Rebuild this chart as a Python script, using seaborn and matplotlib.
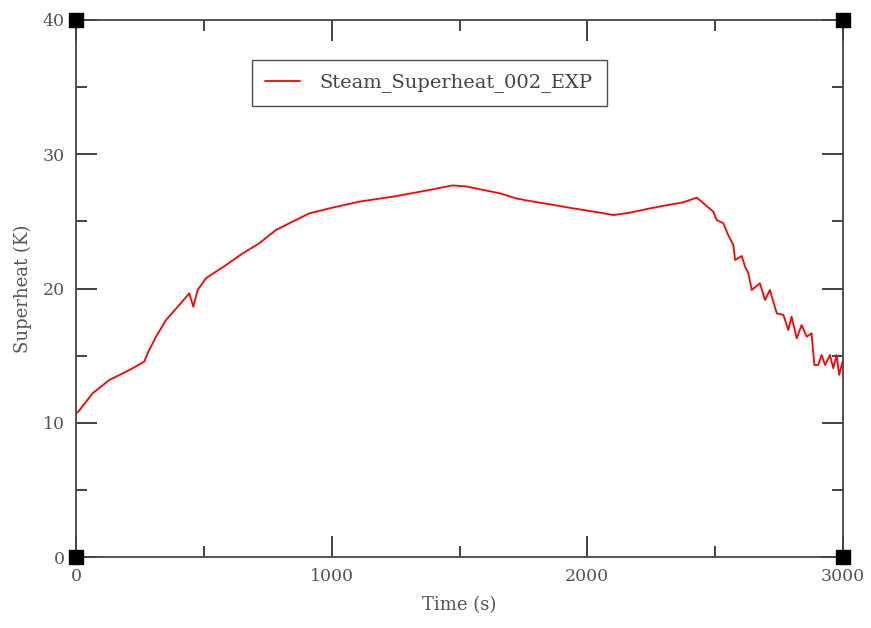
import matplotlib
matplotlib.use("Agg")
import matplotlib.pyplot as plt
import seaborn as sns
import pandas as pd

time_s = [6, 65, 130, 209, 267, 280, 313, 352, 404, 443, 459, 476, 508, 587, 652,
          717, 782, 847, 913, 991, 1108, 1239, 1369, 1473, 1528, 1593, 1658, 1724,
          1789, 1854, 1919, 1984, 2049, 2102, 2167, 2245, 2310, 2375, 2428, 2493,
          2506, 2532, 2551, 2571, 2578, 2604, 2617, 2630, 2643, 2675, 2695, 2714,
          2741, 2767, 2786, 2799, 2819, 2838, 2858, 2877, 2888, 2903, 2916, 2930,
          2949, 2962, 2975, 2985, 3000]
superheat = [10.75, 12.19, 13.18, 13.93, 14.55, 15.17, 16.41, 17.65, 18.77, 19.64,
             18.65, 19.89, 20.76, 21.75, 22.62, 23.37, 24.36, 24.98, 25.6, 25.97,
             26.47, 26.84, 27.29, 27.68, 27.6, 27.34, 27.09, 26.7, 26.47, 26.27,
             26.05, 25.85, 25.65, 25.47, 25.65, 25.97, 26.2, 26.42, 26.77, 25.72,
             25.1, 24.86, 23.98, 23.24, 22.12, 22.42, 21.62, 21.13, 19.89, 20.39,
             19.14, 19.89, 18.15, 18.03, 16.91, 17.9, 16.29, 17.28, 16.41, 16.66,
             14.3, 14.3, 15.05, 14.3, 15.05, 14.06, 15.05, 13.56, 14.67]
series_name = "Steam_Superheat_002_EXP"
x_limits = [0, 3000]
y_limits = [0, 40]
x_ticks = [0, 1000, 2000, 3000]
y_ticks = [0, 10, 20, 30, 40]

sns.set_theme(style="white")
plt.rcParams["font.family"] = ["DejaVu Serif", "DejaVu Sans"]

df = pd.DataFrame({"Time (s)": time_s, "Superheat (K)": superheat})

fig = plt.figure(figsize=(8.71, 6.28), dpi=100)
ax = fig.add_axes([76 / 871, 1 - 557 / 628, (843 - 76) / 871, (557 - 20) / 628])

sns.lineplot(data=df, x="Time (s)", y="Superheat (K)", ax=ax, color="red",
             linewidth=1.3, label=series_name)

ax.set_xlim(*x_limits)
ax.set_ylim(*y_limits)
ax.set_xticks(x_ticks)
ax.set_yticks(y_ticks)
ax.set_xticks([500, 1500, 2500], minor=True)
ax.set_yticks([5, 15, 25, 35], minor=True)

axis_col = "#444444"
text_col = "#555555"
for s in ax.spines.values():
    s.set_color(axis_col)
    s.set_linewidth(1.3)
    s.set_visible(True)

ax.tick_params(which="both", direction="in", top=True, right=True,
               bottom=True, left=True, color="#222222", width=1.2,
               labelcolor=text_col, labelsize=12.5)
ax.tick_params(which="major", length=15, pad=8)
ax.tick_params(which="minor", length=8)

# corner squares
cx = [x_limits[0], x_limits[0], x_limits[1], x_limits[1]]
cy = [y_limits[0], y_limits[1], y_limits[0], y_limits[1]]
ax.scatter(cx, cy, marker="s", s=110, color="black", clip_on=False, zorder=5)

ax.set_xlabel("Time (s)", fontsize=13, color=text_col, labelpad=8)
ax.set_ylabel("Superheat (K)", fontsize=13, color=text_col, labelpad=8)

leg = ax.legend(loc="upper left", bbox_to_anchor=(166 / 767, 1 - 30 / 537),
                frameon=True, fancybox=False, fontsize=14, handlelength=1.8,
                borderpad=0.7, handletextpad=1.0)
leg.get_frame().set_edgecolor("#222222")
leg.get_frame().set_linewidth(1.0)
for t in leg.get_texts():
    t.set_color("#444444")

ax.grid(False)
fig.savefig("out.png", dpi=100, facecolor="white")
